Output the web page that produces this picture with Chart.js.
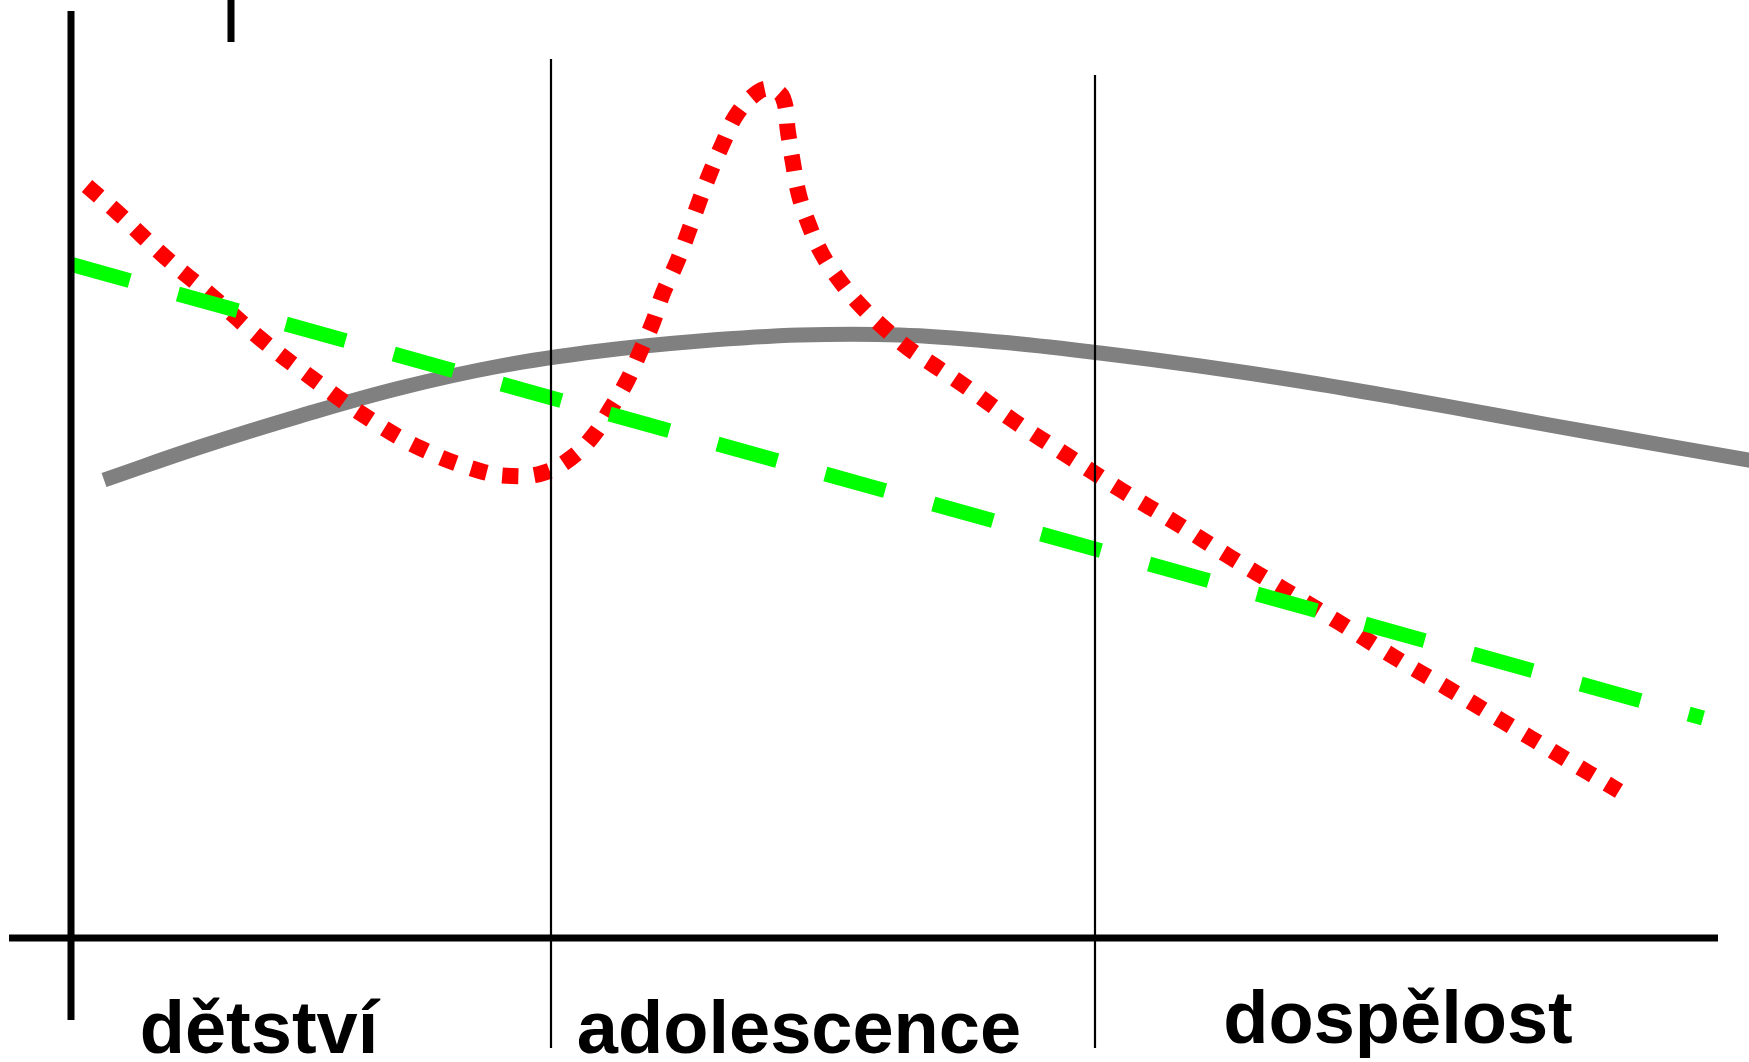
<!DOCTYPE html>
<html>
<head>
<meta charset="utf-8">
<script src="https://cdn.jsdelivr.net/npm/chart.js"></script>
<style>
  html, body { margin: 0; padding: 0; background: #fff; }
  #wrap { width: 1749px; height: 1062px; position: relative; }
</style>
</head>
<body>
<div id="wrap"><canvas id="chart"></canvas></div>
<script>
// stage names under the baseline
const stages = ['dětství', 'adolescence', 'dospělost'];
const stageX = [18.8, 72.8, 132.7];
const stageY = [-11.5, -11.5, -10.5];

// stage boundaries
const boundaryX = [48.0, 102.4];
const boundaryTop = [87.9, 86.3];

// curves (x = age, y = level)
const redX = [1.6, 4.7, 9.4, 14.2, 19.1, 24.2, 29.4, 34.9, 40.9, 44.1, 47.2, 50.0, 52.2, 54.0, 55.6, 56.9, 58.2, 59.2, 60.6, 61.7, 62.8, 63.9, 65.2, 66.6, 68.7, 70.0, 71.2, 71.7, 72.2, 72.8, 73.8, 75.1, 76.9, 79.0, 81.3, 83.7, 86.4, 89.1, 94.3, 99.7, 105.0, 110.5, 115.9, 121.4, 126.9, 132.3, 137.8, 143.3, 148.8, 154.8];
const redY = [75.2, 72.5, 68.1, 64.1, 59.8, 55.9, 52.2, 49.0, 46.7, 46.2, 46.5, 48.0, 50.2, 53.0, 55.7, 58.6, 61.6, 64.5, 67.6, 70.5, 73.6, 76.5, 79.5, 82.4, 84.6, 84.9, 84.0, 80.6, 77.5, 74.3, 71.3, 68.4, 65.7, 63.2, 61.0, 59.0, 57.2, 55.4, 51.7, 48.2, 44.8, 41.5, 38.1, 34.8, 31.5, 28.1, 24.9, 21.6, 18.3, 14.7];

const grayX = [3.3, 12.9, 22.9, 32.9, 42.9, 52.9, 62.9, 72.9, 82.9, 92.9, 102.9, 112.9, 122.9, 132.9, 142.9, 152.9, 168.9];
const grayY = [45.8, 49.1, 52.2, 55.0, 57.2, 58.7, 59.7, 60.3, 60.3, 59.6, 58.5, 57.2, 55.7, 54.0, 52.2, 50.4, 47.6];

const greenX = [-0.1, 163.2];
const greenY = [67.4, 22.0];

const pts = (xs, ys) => xs.map((x, i) => ({ x, y: ys[i] }));
const seg = (x1, y1, x2, y2, w) => ({
  data: [{ x: x1, y: y1 }, { x: x2, y: y2 }],
  borderColor: '#000', borderWidth: w, pointRadius: 0, tension: 0
});

const datasets = [
  seg(0, 92.7, 0, -8.2, 7),          // y axis
  seg(-6.2, 0, 164.7, 0, 7),         // x axis
  seg(16.0, 94, 16.0, 89.6, 7),      // tick at top
  seg(boundaryX[0], boundaryTop[0], boundaryX[0], -11.0, 2.2),
  seg(boundaryX[1], boundaryTop[1], boundaryX[1], -11.0, 2.2),
  {
    data: pts(greenX, greenY), borderColor: '#00ff00', borderWidth: 15,
    borderDash: [62, 50], pointRadius: 0, tension: 0
  },
  {
    data: pts(redX, redY), borderColor: '#ff0000', borderWidth: 16,
    borderDash: [16, 16], pointRadius: 0, tension: 0.4
  },
  {
    data: pts(grayX, grayY), borderColor: '#808080', borderWidth: 15,
    pointRadius: 0, tension: 0.4
  }
];

const stageLabels = {
  id: 'stageLabels',
  afterDraw(chart) {
    const ctx = chart.ctx, xs = chart.scales.x, ys = chart.scales.y;
    ctx.save();
    ctx.font = 'bold 74px "Liberation Sans", Arial, sans-serif';
    ctx.fillStyle = '#000';
    ctx.textAlign = 'center';
    ctx.textBaseline = 'alphabetic';
    stages.forEach((s, i) => {
      ctx.fillText(s, xs.getPixelForValue(stageX[i]), ys.getPixelForValue(stageY[i]));
    });
    ctx.restore();
  }
};

new Chart(document.getElementById('chart'), {
  type: 'line',
  data: { datasets },
  options: {
    responsive: true,
    maintainAspectRatio: false,
    animation: false,
    layout: { padding: 0 },
    plugins: { legend: { display: false }, tooltip: { enabled: false } },
    scales: {
      x: { type: 'linear', min: -7.1, max: 167.8, display: false },
      y: { type: 'linear', min: -12.4, max: 93.8, display: false }
    }
  },
  plugins: [stageLabels]
});
</script>
</body>
</html>
